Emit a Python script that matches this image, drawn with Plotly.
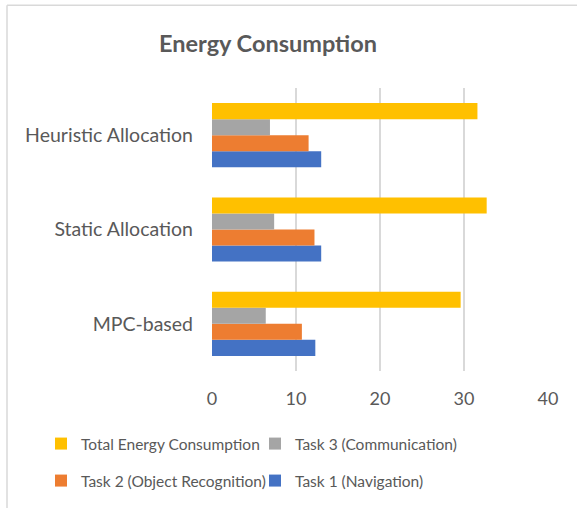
import plotly.graph_objects as go

categories = ["MPC-based", "Static Allocation", "Heuristic Allocation"]
task1 = [12.3, 13.0, 13.0]
task2 = [10.7, 12.2, 11.5]
task3 = [6.4, 7.4, 6.9]
total = [29.6, 32.7, 31.6]
x_ticks = [0, 10, 20, 30, 40]

series = [
    ("Task 1 (Navigation)", task1, "#4472C4", "legend2"),
    ("Task 2 (Object Recognition)", task2, "#ED7D31", "legend2"),
    ("Task 3 (Communication)", task3, "#A5A5A5", "legend"),
    ("Total Energy Consumption", total, "#FFC000", "legend"),
]

FONT = "Lato, Calibri, Carlito, sans-serif"
GREY = "#595959"

fig = go.Figure()
for name, vals, color, lg in series:
    fig.add_trace(go.Bar(
        y=categories, x=vals, name=name, orientation="h",
        marker=dict(color=color, line=dict(width=0)),
        legend=lg,
    ))

W, H = 577, 508
L, R, T, B = 212, 29, 88, 136
PW, PH = W - L - R, H - T - B


def px_x(p):
    return (p - L) / PW


def px_y(p):
    return (H - B - p) / PH


legend_common = dict(orientation="h", xref="paper", yref="paper",
                     xanchor="left", yanchor="middle",
                     traceorder="reversed", entrywidth=169, itemwidth=30,
                     font=dict(size=15.5, color=GREY), bgcolor="rgba(0,0,0,0)")

fig.update_layout(
    width=W, height=H,
    margin=dict(l=L, r=R, t=T, b=B),
    paper_bgcolor="white", plot_bgcolor="white",
    barmode="group", bargap=0.32, bargroupgap=0,
    font=dict(family=FONT, color=GREY, size=16),
    title=dict(text="<b>Energy Consumption</b>", x=268 / W, xref="container",
               xanchor="center", y=1 - 44 / H, yref="container", yanchor="middle",
               font=dict(family=FONT, size=23.5, color=GREY)),
    xaxis=dict(range=[0, 40], tickvals=x_ticks, showgrid=True, gridcolor="#D9D9D9",
               gridwidth=1.5, zeroline=False, showline=False, ticks="",
               tickfont=dict(size=18, color=GREY), ticklabelstandoff=15, fixedrange=True),
    yaxis=dict(showgrid=False, zeroline=False, showline=False, ticks="",
               tickfont=dict(size=19.5, color=GREY), ticklabelstandoff=18, fixedrange=True),
    legend=dict(legend_common, x=px_x(41), y=px_y(444)),
    legend2=dict(legend_common, x=px_x(41), y=px_y(481)),
    shapes=[
        dict(type="line", xref="paper", yref="paper",
             x0=px_x(7), x1=px_x(7), y0=px_y(5), y1=px_y(520),
             line=dict(color="#D9D9D9", width=1.5)),
        dict(type="line", xref="paper", yref="paper",
             x0=px_x(7), x1=px_x(590), y0=px_y(5), y1=px_y(5),
             line=dict(color="#D9D9D9", width=1.5)),
    ],
)

fig.write_html("out.html")
